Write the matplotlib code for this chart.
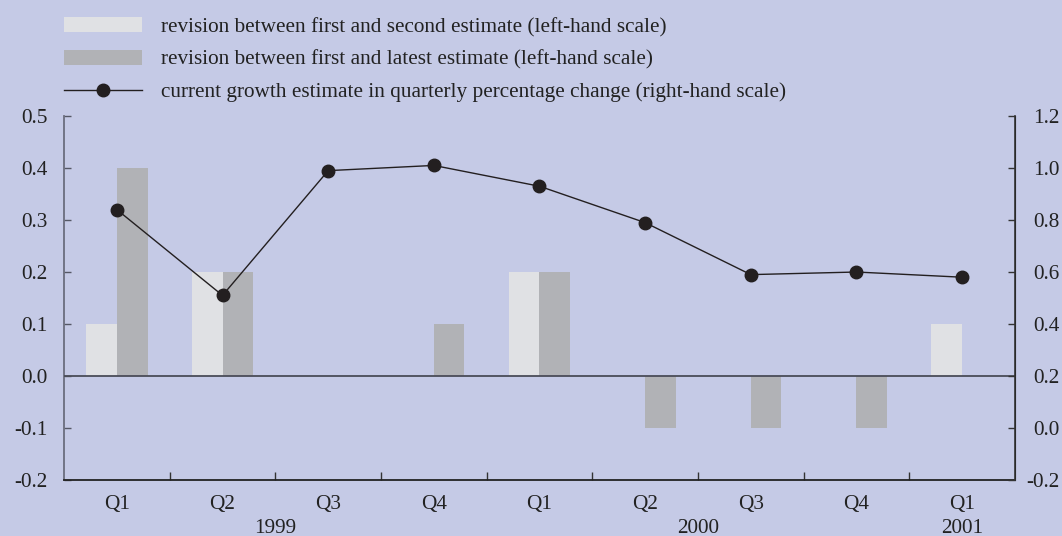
import matplotlib
matplotlib.use("Agg")
from matplotlib import pyplot as plt
from matplotlib.patches import Patch
from matplotlib.lines import Line2D
import numpy as np

plt.rcParams['font.family'] = ['Liberation Serif', 'DejaVu Serif']

quarters = ["Q1", "Q2", "Q3", "Q4", "Q1", "Q2", "Q3", "Q4", "Q1"]
years = ["1999", "2000", "2001"]
year_pos = [1.5, 5.5, 8.0]

# revisions (left-hand scale)
rev_second = [0.1, 0.2, 0.0, 0.0, 0.2, 0.0, 0.0, 0.0, 0.1]
rev_latest = [0.4, 0.2, 0.0, 0.1, 0.2, -0.1, -0.1, -0.1, 0.0]
# current growth estimate (right-hand scale)
growth = [0.84, 0.51, 0.99, 1.01, 0.93, 0.79, 0.59, 0.60, 0.58]

labels = ["revision between first and second estimate (left-hand scale)",
          "revision between first and latest estimate (left-hand scale)",
          "current growth estimate in quarterly percentage change (right-hand scale)"]

bg = "#c5cae6"
light = "#e0e1e4"
gray = "#b1b2b6"
dark = "#231f20"
fs = 15.3

fig = plt.figure(figsize=(10.62, 5.36), dpi=100, facecolor=bg)
ax = fig.add_axes([0.0603, 0.1045, 0.8954, 0.679])
ax.set_facecolor("none")
ax2 = ax.twinx()

x = np.arange(len(quarters))
w = 0.29
ax.bar(x - w / 2, rev_second, w, color=light, zorder=2)
ax.bar(x + w / 2, rev_latest, w, color=gray, zorder=2)
ax.axhline(0, color="#4a4c58", lw=1.3, zorder=3)

ax2.plot(x, growth, color=dark, lw=1.0, marker="o", markersize=9, zorder=4)

ax.set_xlim(-0.5, 8.5)
ax.set_ylim(-0.2, 0.5)
ax2.set_ylim(-0.2, 1.2)
ax.set_yticks(np.arange(-0.2, 0.51, 0.1))
ax.set_yticklabels([f"{v:.1f}" for v in np.arange(-0.2, 0.51, 0.1)])
ax2.set_yticks(np.arange(-0.2, 1.21, 0.2))
ax2.set_yticklabels([f"{v:.1f}" for v in np.arange(-0.2, 1.21, 0.2)], ha="right")

# ticks at category boundaries, labels at centres
ax.set_xticks(np.arange(0.5, 8.5, 1.0))
ax.set_xticklabels([])
ax.set_xticks(x, minor=True)
ax.set_xticklabels(quarters, minor=True)
ax.tick_params(axis="x", which="major", direction="in", length=6, width=1, color="#333333")
ax.tick_params(axis="x", which="minor", length=0, pad=11, labelsize=fs, labelcolor="#222222")
ax.tick_params(axis="y", direction="in", length=5, width=1, color="#555866", pad=12,
               labelsize=fs, labelcolor="#222222")
ax2.tick_params(axis="y", direction="in", length=5, width=1, color="#333333", pad=32,
                labelsize=fs, labelcolor="#222222")

for a in (ax, ax2):
    a.spines["top"].set_visible(False)
ax.spines["left"].set_color("#6b6e7e")
ax.spines["left"].set_linewidth(1.3)
ax.spines["bottom"].set_color("#222222")
ax.spines["bottom"].set_linewidth(1.3)
ax2.spines["left"].set_visible(False)
ax2.spines["bottom"].set_visible(False)
ax2.spines["right"].set_color("#333333")
ax2.spines["right"].set_linewidth(1.2)

for yr, p in zip(years, year_pos):
    ax.annotate(yr, xy=(p, 0), xycoords=("data", "axes fraction"),
                xytext=(0, -35), textcoords="offset points",
                ha="center", va="center", fontsize=fs, color="#222222")

handles = [Patch(facecolor=light, edgecolor="none"),
           Patch(facecolor=gray, edgecolor="none"),
           Line2D([], [], color=dark, lw=1.0, marker="o", markersize=9)]
fig.legend(handles, labels, loc="upper left", bbox_to_anchor=(0.0605, 0.968),
           frameon=False, fontsize=fs, handlelength=3.67, handletextpad=0.9,
           labelspacing=0.6, borderpad=0, borderaxespad=0, labelcolor="#222222")

fig.savefig("out.png", dpi=100, facecolor=bg)
